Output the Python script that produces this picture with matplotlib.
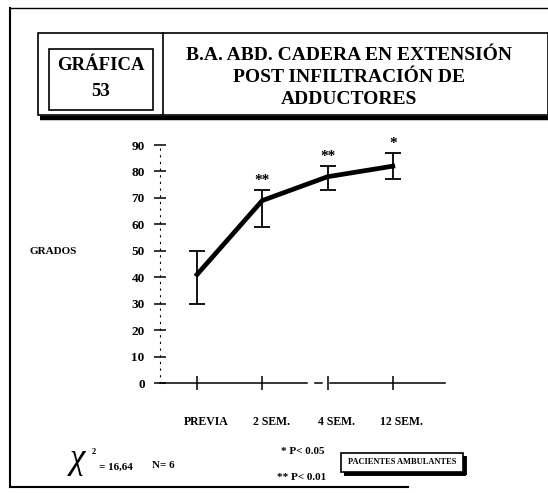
import matplotlib.pyplot as plt
from matplotlib.patches import Rectangle

# data
etapas = ["PREVIA", "2 SEM.", "4 SEM.", "12 SEM."]
grados = [41, 69, 78, 82]
err_bajo = [11, 10, 5, 5]
err_alto = [9, 4, 4, 5]
marcas = ["", "**", "**", "*"]
y_ticks = [0, 10, 20, 30, 40, 50, 60, 70, 80, 90]

FONT = "Liberation Serif"
W, H = 548, 493

fig = plt.figure(figsize=(W / 100, H / 100), dpi=100)

# overlay in pixel coordinates for the frames and loose texts
deco = fig.add_axes([0, 0, 1, 1])
deco.set_xlim(0, W)
deco.set_ylim(H, 0)
deco.axis("off")

# outer page frame
deco.plot([10, 10], [8, 487], color="black", lw=1.5)
deco.plot([10, 548], [8, 8], color="black", lw=1.0)
deco.plot([10, 408], [487, 487], color="black", lw=1.5)

# title block with its shadow
deco.add_patch(Rectangle((38, 33), 510, 82, fill=False, lw=1.2, ec="black"))
deco.plot([40, 548], [118, 118], color="black", lw=3.2, solid_capstyle="butt")
deco.plot([163, 163], [33, 115], color="black", lw=1.2)
deco.add_patch(Rectangle((49, 49), 104, 61, fill=False, lw=1.2, ec="black"))
deco.text(101, 66, "GRÁFICA", ha="center", va="center", fontsize=13.5,
          fontweight="bold", family=FONT)
deco.text(101, 91, "53", ha="center", va="center", fontsize=13.5,
          fontweight="bold", family=FONT)
titulo = ["B.A. ABD. CADERA EN EXTENSIÓN", "POST INFILTRACIÓN DE", "ADDUCTORES"]
for i, linea in enumerate(titulo):
    deco.text(349, 56 + i * 22, linea, ha="center", va="center", fontsize=14,
              fontweight="bold", family=FONT)

deco.text(29, 251, "GRADOS", ha="left", va="center", fontsize=8,
          fontweight="bold", family=FONT)

# footer notes
deco.text(70, 459, "χ", ha="left", va="center", fontsize=25, style="italic",
          family=FONT)
deco.text(92, 452, "2", ha="left", va="center", fontsize=6,
          fontweight="bold", family=FONT)
deco.text(99, 467, "= 16,64", ha="left", va="center", fontsize=8,
          fontweight="bold", family=FONT)
deco.text(152, 466, "N= 6", ha="left", va="center", fontsize=8,
          fontweight="bold", family=FONT)
deco.text(281, 451, "* P< 0.05", ha="left", va="center", fontsize=8,
          fontweight="bold", family=FONT)
deco.text(277, 477, "** P< 0.01", ha="left", va="center", fontsize=8,
          fontweight="bold", family=FONT)
deco.add_patch(Rectangle((341, 453), 122, 19, fill=False, lw=1.2, ec="black"))
deco.plot([344, 466], [474, 474], color="black", lw=2.8, solid_capstyle="butt")
deco.plot([465, 465], [456, 475], color="black", lw=2.8, solid_capstyle="butt")
deco.text(402, 462.5, "PACIENTES AMBULANTES", ha="center", va="center",
          fontsize=6, fontweight="bold", family=FONT)

# data axes
ax = fig.add_axes([160 / W, (H - 383) / H, 285 / W, (383 - 145) / H])
ax.patch.set_alpha(0)
x = list(range(len(etapas)))
ax.errorbar(x, grados, yerr=[err_bajo, err_alto], color="black", lw=3.4,
            elinewidth=1.3, capsize=6, capthick=1.3)
for xi, g, ea, m in zip(x, grados, err_alto, marcas):
    if m:
        ax.text(xi, g + ea + 3.5, m, ha="center", va="center", fontsize=11,
                fontweight="bold", family=FONT)

ax.set_xlim(-0.567, 3.8)
ax.set_ylim(0, 90)
ax.set_yticks(y_ticks)
ax.set_yticklabels([str(v) for v in y_ticks], fontsize=9.5, fontweight="bold",
                   family=FONT)
ax.set_xticks(x)
ax.set_xticklabels([])
# the typed labels sit a little to the right of their ticks
for xi, lbl in zip(x, etapas):
    ax.annotate(lbl, (xi, 0), xytext=(6.5, -28), textcoords="offset points",
                ha="center", va="center", fontsize=8.5, fontweight="bold",
                family=FONT, annotation_clip=False)
ax.tick_params(axis="y", direction="inout", length=8, width=1.1, pad=7)
ax.tick_params(axis="x", direction="inout", length=10, width=1.1)
for s in ["top", "right", "bottom"]:
    ax.spines[s].set_visible(False)
ax.spines["left"].set_linestyle((0, (1, 5)))
ax.spines["left"].set_linewidth(0.8)

# broken baseline
ax.plot([-0.567, 1.685], [0, 0], color="black", lw=1.1, clip_on=False)
ax.plot([1.807, 1.914], [0, 0], color="black", lw=1.1, clip_on=False)
ax.plot([2.037, 3.8], [0, 0], color="black", lw=1.1, clip_on=False)

fig.savefig("out.png", dpi=100)
